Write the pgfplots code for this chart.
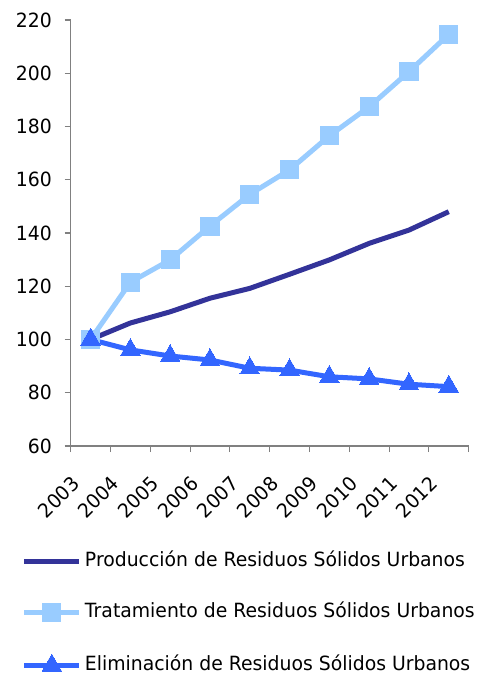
\documentclass[border=0pt]{standalone}
\usepackage{fontspec}
\setmainfont{DejaVu Sans}[FakeStretch=0.96]
\usepackage{pgfplots}
\pgfplotsset{compat=1.18}
\definecolor{prod}{HTML}{333399}
\definecolor{trat}{HTML}{99CCFF}
\definecolor{elim}{HTML}{3366FF}
\definecolor{axgray}{HTML}{808080}
\newcommand{\lblfont}{\fontsize{14.7}{17}\selectfont}
\begin{document}
\begin{tikzpicture}
\begin{axis}[
  scale only axis, width=298.5pt, height=319.5pt,
  xmin=-0.5, xmax=9.5, ymin=60, ymax=220,
  ytick={60,80,...,220},
  xtick={-0.5,0.5,1.5,2.5,3.5,4.5,5.5,6.5,7.5,8.5,9.5},
  xticklabels={2003,2004,2005,2006,2007,2008,2009,2010,2011,2012,{}},
  axis lines*=left,
  axis line style={draw=axgray, line width=0.8pt, -},
  tick style={draw=axgray, line width=0.8pt},
  tick align=outside,
  major tick length=4.5pt,
  /pgf/number format/assume math mode=true,
  ticklabel style={font=\lblfont, text=black, inner sep=0pt},
  yticklabel style={anchor=east, xshift=-9.5pt},
  xticklabel style={xshift=7.5pt, yshift=-24.75pt, rotate=45, anchor=base east},
  legend style={at={(-0.1223,-0.2492)}, anchor=north west, draw=none, fill=none,
    inner sep=0pt, outer sep=0pt, row sep=24.25pt,
    nodes={inner sep=0pt, text height=10.5pt, text depth=3.5pt, font=\lblfont}},
  legend cell align=left,
  legend image code/.code={%
    \draw[#1, mark repeat=2, mark phase=2] plot coordinates {(0pt,0pt) (20.5pt,0pt) (41pt,0pt)};
    \path (43.5pt,0pt);},
  clip=false,
]
\addplot[prod, line width=3.75pt, no markers] coordinates {
(0,100) (1,106.2) (2,110.4) (3,115.5) (4,119.2) (5,124.5) (6,129.9) (7,136.1) (8,141.1) (9,148)};
\addlegendentry{Producción de Residuos Sólidos Urbanos}
\addplot[trat, line width=3.75pt, mark=square*, mark size=6.8pt, mark options={solid, fill=trat, draw=trat, line width=0pt}] coordinates {
(0,100) (1,121.5) (2,129.9) (3,142.6) (4,154.5) (5,163.7) (6,176.5) (7,187.4) (8,200.6) (9,214.6)};
\addlegendentry{Tratamiento de Residuos Sólidos Urbanos}
\addplot[elim, line width=3.75pt, mark=triangle*, mark size=8.5pt, mark options={solid, fill=elim, draw=elim, line width=0pt}] coordinates {
(0,100) (1,96.1) (2,93.8) (3,92.3) (4,89.2) (5,88.5) (6,86) (7,85.2) (8,83.2) (9,82.3)};
\addlegendentry{Eliminación de Residuos Sólidos Urbanos}
\coordinate (SW) at (rel axis cs:0,0);
\coordinate (NE) at (rel axis cs:1,1);
\end{axis}
\pgfresetboundingbox
\path ([xshift=-53pt,yshift=-171.75pt]SW) rectangle ([xshift=14.5pt,yshift=15pt]NE);
\end{tikzpicture}
\end{document}
